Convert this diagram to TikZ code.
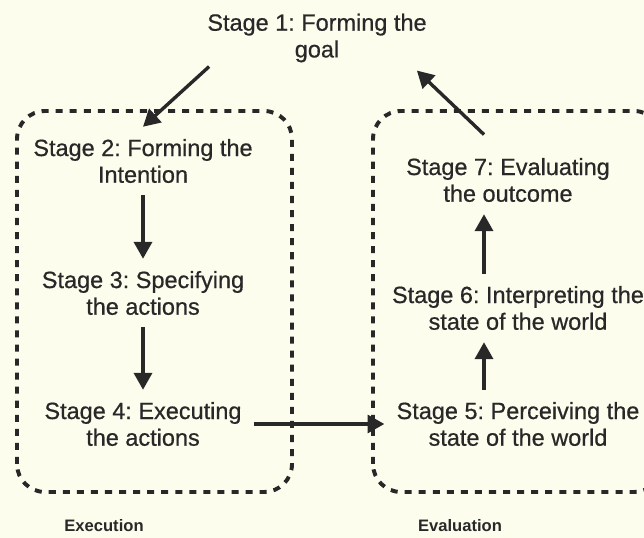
\documentclass[tikz,border=0pt]{standalone}
\usepackage{fontspec}
\setmainfont{Liberation Sans}
\newfontfamily\stagefont{Liberation Sans}[FakeBold=0.6]
\usetikzlibrary{arrows.meta}
\definecolor{paper}{RGB}{253,253,238}
\definecolor{ink}{RGB}{40,40,40}
\tikzset{
    stage/.style={align=center, text=ink, inner sep=0.3cm, font=\stagefont\fontsize{16.7}{19}\selectfont},
    grp/.style={draw=ink, line width=2.8pt, rounded corners=0.7cm, dash pattern=on 5pt off 5pt},
    arr/.style={draw=ink, line width=2.4pt, -{Triangle[length=0.42cm,width=0.45cm]}},
    side/.style={text=ink, font=\fontsize{11.8}{13}\selectfont\bfseries}
}
\frenchspacing
\begin{document}
\begin{tikzpicture}
    \useasboundingbox (0,0) rectangle (16.1,13.45);
    \fill[paper] (0,0) rectangle (16.1,13.45);

    \draw[grp] (0.425,1.15) rectangle (7.3,10.675);
    \draw[grp] (9.325,1.15) rectangle (16.55,10.675);

    \node[stage] (s1) at (7.925,12.5) {Stage 1: Forming the\\goal};
    \node[stage] (s2) at (3.575,9.425) {Stage 2: Forming the\\Intention};
    \node[stage] (s3) at (3.575,6.125) {Stage 3: Specifying\\the actions};
    \node[stage] (s4) at (3.575,2.85) {Stage 4: Executing\\the actions};
    \node[stage] (s5) at (12.95,2.85) {Stage 5: Perceiving the\\state of the world};
    \node[stage] (s6) at (12.95,5.75) {Stage 6: Interpreting the\\state of the world};
    \node[stage] (s7) at (12.7,8.95) {Stage 7: Evaluating\\the outcome};

    \node[side] (exe) at (2.6,0.3) {Execution};
    \node[side] (eva) at (11.5,0.32) {Evaluation};

    \draw[arr] ([xshift=0.35cm,yshift=0.2cm]s1.south west) -- (s2.north);
    \draw[arr] (s2.south) -- (s3.north);
    \draw[arr] (s3.south) -- (s4.north);
    \draw[arr] (s4.east) -- (s5.west);
    \draw[arr] ([xshift=-0.85cm]s5.north) -- ([xshift=-0.85cm]s6.south);
    \draw[arr] ([xshift=-0.85cm]s6.north) -- ([xshift=-0.6cm]s7.south);
    \draw[arr] ([xshift=-0.6cm,yshift=0.28cm]s7.north) -- ([xshift=-0.55cm,yshift=0.1cm]s1.south east);
\end{tikzpicture}
\end{document}
